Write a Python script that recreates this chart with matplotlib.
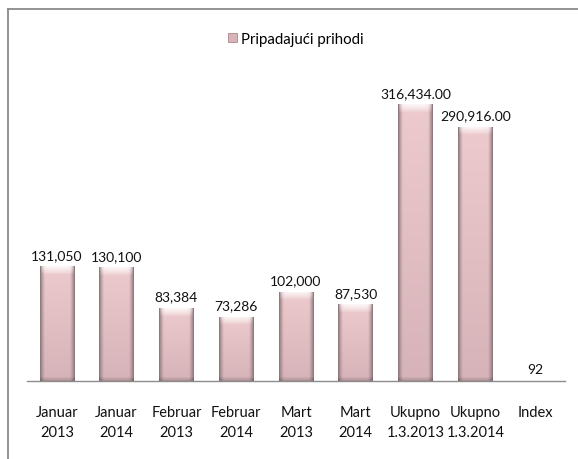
import numpy as np
import matplotlib.pyplot as plt
from matplotlib.lines import Line2D
from matplotlib.patches import Patch
from matplotlib.colors import to_rgb

plt.rcParams['font.family'] = ['Lato', 'DejaVu Sans']

kategorije = ['Januar\n2013', 'Januar\n2014', 'Februar\n2013', 'Februar\n2014',
              'Mart\n2013', 'Mart\n2014', 'Ukupno\n1.3.2013', 'Ukupno\n1.3.2014', 'Index']
prihodi = [131050, 130100, 83384, 73286, 102000, 87530, 316434, 290916, 92]
decimale = [0, 0, 0, 0, 0, 0, 2, 2, 0]
serija = 'Pripadajući prihodi'

fig = plt.figure(figsize=(5.78, 4.60), dpi=100)
ax = fig.add_axes([27/578, 1-382/460, 538/578, 306/460])
ax.set_xlim(-0.5, len(kategorije) - 0.5)
ax.set_ylim(0, 350000)

x = np.arange(len(kategorije))
bars = ax.bar(x, prihodi, width=0.58, color='#e3c2c5', edgecolor='none', zorder=2)

top = np.array(to_rgb('#edcacd'))
bot = np.array(to_rgb('#d6b3b8'))
rub = np.array(to_rgb('#8e7a7e'))


def slika_stupca(h_px, w_px=36):
    # boja stupca: blagi vertikalni gradijent, tamni rubovi, svijetli vrh (bevel)
    r = np.linspace(0, 1, h_px)[:, None, None]
    base = top * (1 - r) + bot * r
    c = np.abs(np.linspace(-1, 1, w_px))
    e = np.clip((c - 0.72) / 0.28, 0, 1) ** 1.3
    img = base * (1 - e[None, :, None]) + rub * e[None, :, None]
    py = np.arange(h_px)
    hl = np.clip(1 - py / 8.0, 0, 1) ** 0.8
    img = img + (1 - img) * (0.85 * hl)[:, None, None] * (1 - c ** 6)[None, :, None]
    dn = np.clip(1 - (h_px - 1 - py) / 4.0, 0, 1)
    img = img * (1 - 0.18 * dn)[:, None, None]
    return np.clip(img, 0, 1)


for i, b in enumerate(bars):
    x0, w, h = b.get_x(), b.get_width(), b.get_height()
    y0p = ax.transData.transform((0, 0))[1]
    y1p = ax.transData.transform((0, h))[1]
    hp = max(int(round(y1p - y0p)), 2)
    im = ax.imshow(slika_stupca(hp), extent=(x0, x0 + w, 0, h), aspect='auto',
                   zorder=3, interpolation='bilinear')
    im.set_clip_path(b)
    ax.annotate(f'{h:,.{decimale[i]}f}',
                xy=(x0 + w / 2, h), xytext=(0, 4), textcoords='offset points',
                ha='center', va='bottom', fontsize=10, color='#111111')

ax.set_yticks([])
ax.set_xticks(x)
ax.set_xticklabels(kategorije, fontsize=10.5, color='#111111', linespacing=1.55)
ax.tick_params(axis='x', length=0, pad=17)
for s in ['top', 'right', 'left']:
    ax.spines[s].set_visible(False)
ax.spines['bottom'].set_color('#8c8c8c')
ax.spines['bottom'].set_linewidth(1.0)
ax.spines['bottom'].set_zorder(4)

# okvir grafikona
fig.add_artist(Line2D([8/578, 1], [1-9.5/460, 1-9.5/460], color='#8a8a8a', lw=1.3))
fig.add_artist(Line2D([8/578, 8/578], [0, 1-9.5/460], color='#8a8a8a', lw=1.3))

handle = Patch(facecolor='#d9b3b7', edgecolor='#a88a8e', linewidth=0.6)
fig.legend([handle], [serija], loc='center', bbox_to_anchor=(296/578, 1-40/460),
           frameon=False, fontsize=10.8, handlelength=0.6, handleheight=0.6,
           handletextpad=0.3)

fig.savefig('out.png', dpi=100)
